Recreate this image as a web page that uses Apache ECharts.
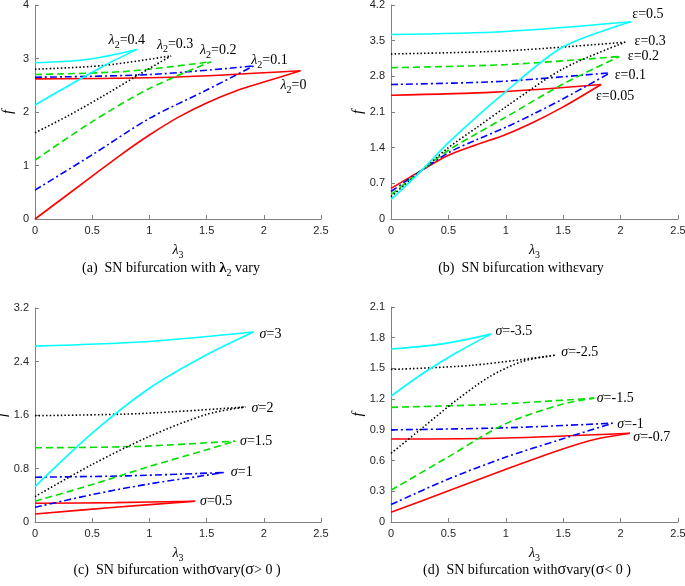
<!DOCTYPE html>
<html><head><meta charset="utf-8">
<script src="https://cdn.jsdelivr.net/npm/echarts@6/dist/echarts.min.js"></script>
<style>html,body{margin:0;padding:0;background:#fff}#c{width:685px;height:586px}</style>
</head><body><div id="c"></div>
<script>
// ---------- x-axis ticks (shared) ----------
const xTicks = [0, 0.5, 1, 1.5, 2, 2.5];
// y-axis ticks per panel
const yTicksA = [0, 1, 2, 3, 4];
const yTicksB = [0, 0.7, 1.4, 2.1, 2.8, 3.5, 4.2];
const yTicksC = [0, 0.8, 1.6, 2.4, 3.2];
const yTicksD = [0, 0.3, 0.6, 0.9, 1.2, 1.5, 1.8, 2.1];

// ---------- Panel (a): λ2 vary ----------
const aLabels = ['0', '0.1', '0.2', '0.3', '0.4'];
const a0_low = [[0,0],[0.5,0.8],[0.75,1.2],[1,1.57],[1.25,1.9],[1.5,2.17],[1.75,2.39],[2,2.56],[2.32,2.77]];
const a0_up  = [[0,2.62],[1.2,2.65],[2.32,2.77]];
const a1_low = [[0,0.54],[0.5,1.2],[1,1.88],[1.5,2.41],[1.91,2.86]];
const a1_up  = [[0,2.65],[1,2.7],[1.91,2.86]];
const a2_low = [[0,1.1],[0.5,1.82],[1,2.44],[1.54,2.94]];
const a2_up  = [[0,2.7],[0.8,2.76],[1.54,2.94]];
const a3_low = [[0,1.61],[0.29,1.93],[0.58,2.28],[0.87,2.65],[1.19,3.05]];
const a3_up  = [[0,2.8],[0.6,2.87],[1.19,3.05]];
const a4_low = [[0,2.13],[0.3,2.5],[0.6,2.86],[0.89,3.17]];
const a4_up  = [[0,2.92],[0.45,2.98],[0.89,3.17]];

// ---------- Panel (b): ε vary ----------
const bLabels = ['0.05', '0.1', '0.2', '0.3', '0.5'];
const b0_low = [[0,0.6],[0.27,0.96],[0.5,1.25],[0.75,1.46],[1,1.66],[1.25,1.91],[1.5,2.2],[1.83,2.64]];
const b0_up  = [[0,2.43],[0.9,2.49],[1.83,2.64]];
const b1_low = [[0,0.54],[0.27,0.96],[0.5,1.3],[0.75,1.56],[1,1.8],[1.25,2.07],[1.5,2.36],[1.91,2.87]];
const b1_up  = [[0,2.64],[0.95,2.7],[1.91,2.87]];
const b2_low = [[0,0.48],[0.27,0.96],[0.5,1.35],[0.75,1.68],[1,2.0],[1.5,2.65],[1.99,3.19]];
const b2_up  = [[0,2.97],[1,3.03],[1.99,3.19]];
const b3_low = [[0,0.44],[0.27,0.96],[0.5,1.4],[0.75,1.8],[1,2.2],[1.5,2.95],[2.04,3.47]];
const b3_up  = [[0,3.24],[1,3.3],[2.04,3.47]];
const b4_low = [[0,0.38],[0.27,0.96],[0.5,1.5],[1,2.5],[1.5,3.38],[2.09,3.87]];
const b4_up  = [[0,3.62],[1,3.68],[2.09,3.87]];

// ---------- Panel (c): σ vary (σ>0) ----------
const cLabels = ['0.5', '1', '1.5', '2', '3'];
const c0_low = [[0,0.12],[0.7,0.22],[1.4,0.31]];
const c0_up  = [[0,0.28],[0.7,0.29],[1.4,0.31]];
const c1_low = [[0,0.22],[0.5,0.41],[1,0.57],[1.5,0.7],[1.65,0.74]];
const c1_up  = [[0,0.67],[0.8,0.69],[1.65,0.74]];
const c2_low = [[0,0.31],[0.5,0.56],[1,0.83],[1.5,1.08],[1.75,1.21]];
const c2_up  = [[0,1.11],[0.9,1.13],[1.75,1.21]];
const c3_low = [[0,0.38],[0.5,0.86],[1,1.28],[1.5,1.61],[1.84,1.72]];
const c3_up  = [[0,1.59],[0.9,1.62],[1.84,1.72]];
const c4_low = [[0,0.53],[0.5,1.33],[1,2.0],[1.5,2.5],[1.91,2.84]];
const c4_up  = [[0,2.63],[1,2.7],[1.91,2.84]];

// ---------- Panel (d): σ vary (σ<0) ----------
const dLabels = ['-0.7', '-1', '-1.5', '-2.5', '-3.5'];
const d0_low = [[0,0.095],[0.49,0.3],[0.99,0.51],[1.49,0.71],[1.79,0.81],[2.08,0.867]];
const d0_up  = [[0,0.81],[1,0.82],[2.08,0.867]];
const d1_low = [[0,0.17],[0.49,0.415],[0.99,0.63],[1.49,0.81],[1.93,0.965]];
const d1_up  = [[0,0.9],[1,0.92],[1.93,0.965]];
const d2_low = [[0,0.31],[0.49,0.63],[0.99,0.955],[1.49,1.15],[1.77,1.21]];
const d2_up  = [[0,1.12],[0.9,1.15],[1.77,1.21]];
const d3_low = [[0,0.67],[0.285,0.93],[0.57,1.19],[0.86,1.42],[1.15,1.57],[1.435,1.63]];
const d3_up  = [[0,1.49],[0.7,1.53],[1.435,1.63]];
const d4_low = [[0,1.23],[0.29,1.46],[0.58,1.66],[0.87,1.835]];
const d4_up  = [[0,1.69],[0.45,1.74],[0.87,1.835]];

// ---------- styles ----------
const styles = [
  { color: '#ff0000', type: 'solid' },
  { color: '#0000ff', type: [7, 3, 2, 3] },
  { color: '#00e000', type: [7, 4] },
  { color: '#000000', type: [1.5, 2.2] },
  { color: '#00ffff', type: 'solid' }
];
const SERIF = '"Liberation Serif","Times New Roman",serif';
const SANS = '"Liberation Sans",Arial,sans-serif';

const grids = [
  { left: 35, top: 5, width: 286, height: 214, outerBoundsMode: 'none', containLabel: false },
  { left: 391, top: 5, width: 287, height: 214, outerBoundsMode: 'none', containLabel: false },
  { left: 35, top: 308, width: 286, height: 214, outerBoundsMode: 'none', containLabel: false },
  { left: 391, top: 307, width: 287, height: 215, outerBoundsMode: 'none', containLabel: false }
];
const yTickSets = [yTicksA, yTicksB, yTicksC, yTicksD];

const panels = [
  { low: [a0_low,a1_low,a2_low,a3_low,a4_low], up: [a0_up,a1_up,a2_up,a3_up,a4_up], labels: aLabels,
    fmt: v => '{l|λ}{s|2}{n|=' + v + '}',
    offsets: [[-7,15],[16,-6],[7,-11],[4,-11],[-10,-9]] },
  { low: [b0_low,b1_low,b2_low,b3_low,b4_low], up: [b0_up,b1_up,b2_up,b3_up,b4_up], labels: bLabels,
    fmt: v => '{n|ε=' + v + '}',
    offsets: [[14,12],[20,3],[24,0],[25,-1],[17,-7]] },
  { low: [c0_low,c1_low,c2_low,c3_low,c4_low], up: [c0_up,c1_up,c2_up,c3_up,c4_up], labels: cLabels,
    fmt: v => '{g|σ}{n|=' + v + '}',
    offsets: [[21,0],[18,0],[21,0],[17,1],[17,2]] },
  { low: [d0_low,d1_low,d2_low,d3_low,d4_low], up: [d0_up,d1_up,d2_up,d3_up,d4_up], labels: dLabels,
    fmt: v => '{g|σ}{n|=' + v + '}',
    offsets: [[22,4],[18,1],[21,0],[24,-3],[23,-3]] }
];

const labelRich = {
  l: { fontFamily: SERIF, fontSize: 14, fontStyle: 'italic', lineHeight: 20, color: '#000' },
  s: { fontFamily: SERIF, fontSize: 10, lineHeight: 10, verticalAlign: 'bottom', color: '#000' },
  n: { fontFamily: SERIF, fontSize: 14, lineHeight: 20, color: '#000' },
  g: { fontFamily: SERIF, fontSize: 14, fontStyle: 'italic', lineHeight: 20, color: '#000' }
};

const xAxes = [], yAxes = [], series = [];
grids.forEach((g, i) => {
  const yt = yTickSets[i];
  xAxes.push({
    type: 'value', gridIndex: i, min: xTicks[0], max: xTicks[xTicks.length - 1], interval: xTicks[1] - xTicks[0],
    splitLine: { show: false },
    axisLine: { lineStyle: { color: '#808080', width: 1 } },
    axisTick: { inside: true, length: 4, lineStyle: { color: '#808080' } },
    axisLabel: { color: '#262626', fontFamily: SANS, fontSize: 11, margin: 6, formatter: v => String(+v.toFixed(2)) },
    name: '{l|λ}{s|3}', nameLocation: 'middle', nameGap: 21,
    nameTextStyle: { rich: labelRich }
  });
  yAxes.push({
    type: 'value', gridIndex: i, min: yt[0], max: yt[yt.length - 1], interval: yt[1] - yt[0],
    splitLine: { show: false },
    axisLine: { show: true, lineStyle: { color: '#808080', width: 1 } },
    axisTick: { show: true, inside: true, length: 4, lineStyle: { color: '#808080' } },
    axisLabel: { color: '#262626', fontFamily: SANS, fontSize: 11, margin: 6, formatter: v => String(+v.toFixed(2)) },
    name: 'f', nameLocation: 'middle', nameGap: 19, nameRotate: 90,
    nameTextStyle: { fontFamily: SERIF, fontStyle: 'italic', fontSize: 15, color: '#000' }
  });
  const p = panels[i];
  for (let k = 0; k < 5; k++) {
    const st = styles[k];
    const tip = p.low[k][p.low[k].length - 1];
    const common = {
      type: 'line', xAxisIndex: i, yAxisIndex: i, showSymbol: false, symbol: 'none',
      smooth: 0.3, animation: false, silent: true,
      lineStyle: { color: st.color, type: st.type, width: 1.6 }
    };
    series.push(Object.assign({}, common, {
      data: p.low[k],
      markPoint: {
        symbol: 'circle', symbolSize: 0, animation: false, silent: true,
        itemStyle: { color: 'rgba(0,0,0,0)' },
        data: [{ coord: tip }],
        label: {
          show: true, position: 'inside', offset: p.offsets[k],
          formatter: p.fmt(p.labels[k]), rich: labelRich
        }
      }
    }));
    series.push(Object.assign({}, common, { data: p.up[k] }));
  }
});

const capRich = {
  t: { fontFamily: SERIF, fontSize: 14, color: '#000' },
  lb: { fontFamily: SERIF, fontSize: 15, fontWeight: 'bold', color: '#000', lineHeight: 20 },
  sb: { fontFamily: SERIF, fontSize: 10, color: '#000', lineHeight: 10, verticalAlign: 'bottom' },
  e: { fontFamily: SERIF, fontSize: 15, color: '#000' },
  g: { fontFamily: SERIF, fontSize: 16, color: '#000' }
};
const captions = [
  { x: 171, y: 268, text: '{t|(a)  SN bifurcation with }{lb|λ}{sb|2}{t| vary}' },
  { x: 521, y: 268, text: '{t|(b)  SN bifurcation with}{e|ε}{t|vary}' },
  { x: 177, y: 570, text: '{t|(c)  SN bifurcation with}{g|σ}{t|vary(}{g|σ}{t|> 0 )}' },
  { x: 527, y: 570, text: '{t|(d)  SN bifurcation with}{g|σ}{t|vary(}{g|σ}{t|< 0 )}' }
];

const chart = echarts.init(document.getElementById('c'), null, { renderer: 'canvas' });
chart.setOption({
  backgroundColor: '#ffffff',
  animation: false,
  grid: grids,
  xAxis: xAxes,
  yAxis: yAxes,
  series: series,
  graphic: captions.map(c => ({
    type: 'text', x: c.x, y: c.y, silent: true,
    style: { text: c.text, rich: capRich, align: 'center', verticalAlign: 'middle', fill: '#000' }
  }))
});
</script></body></html>
